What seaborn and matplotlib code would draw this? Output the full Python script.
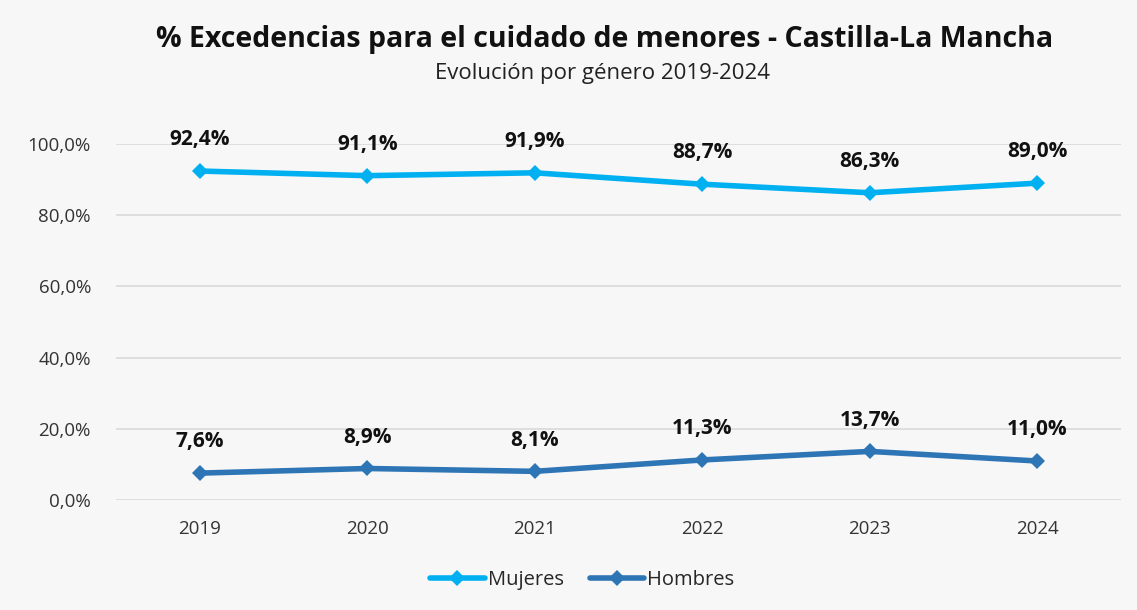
import pandas as pd
import matplotlib.pyplot as plt
import seaborn as sns

years = ["2019", "2020", "2021", "2022", "2023", "2024"]
mujeres = [92.4, 91.1, 91.9, 88.7, 86.3, 89.0]
hombres = [7.6, 8.9, 8.1, 11.3, 13.7, 11.0]
yticks = [0, 20, 40, 60, 80, 100]

colors = {"Mujeres": "#00b0f0", "Hombres": "#2e75b6"}


def fmt(v):
    return f"{v:.1f}%".replace(".", ",")


def main():
    df = pd.DataFrame({"Año": years * 2,
                       "Valor": mujeres + hombres,
                       "Serie": ["Mujeres"] * len(years) + ["Hombres"] * len(years)})

    sns.set_theme(style="white")
    plt.rcParams["font.family"] = ["Open Sans", "DejaVu Sans"]

    fig = plt.figure(figsize=(11.37, 6.10), dpi=100, facecolor="#f7f7f7")
    ax = fig.add_axes([0.102, 0.180, 0.884, 0.584])
    ax.set_facecolor("#f7f7f7")

    sns.lineplot(data=df, x="Año", y="Valor", hue="Serie", palette=colors,
                 marker="D", markersize=8, markeredgewidth=0, linewidth=4,
                 sort=False, ax=ax)

    # data labels
    for vals in (mujeres, hombres):
        for i, v in enumerate(vals):
            ax.annotate(fmt(v), (i, v), xytext=(0, 15), textcoords="offset points",
                        ha="center", va="bottom", fontsize=15, fontweight="bold",
                        color="#111111")

    ax.set_xlim(-0.5, len(years) - 0.5)
    ax.set_ylim(0, 100)
    ax.set_yticks(yticks)
    ax.set_yticklabels([fmt(t) for t in yticks], fontsize=13.5, color="#333333")
    ax.tick_params(axis="x", labelsize=13.5, colors="#333333", pad=14, length=0)
    ax.tick_params(axis="y", pad=18, length=0)
    ax.grid(axis="y", color="#d9d9d9", linewidth=1.2)
    ax.set_axisbelow(True)
    for s in ax.spines.values():
        s.set_visible(False)
    ax.set_xlabel("")
    ax.set_ylabel("")

    leg = ax.legend(loc="upper center", bbox_to_anchor=(0.464, -0.145), ncol=2,
                    frameon=False, fontsize=14.5, handlelength=2.7,
                    handletextpad=0.15, columnspacing=1.3)
    for h in leg.legend_handles:
        h.set_linewidth(4)
        h.set_markersize(8)

    fig.text(0.532, 0.936, "% Excedencias para el cuidado de menores - Castilla-La Mancha",
             ha="center", va="center", fontsize=20.5, fontweight="bold", color="#111111")
    fig.text(0.530, 0.880, "Evolución por género 2019-2024", ha="center", va="center",
             fontsize=16, color="#222222")

    fig.savefig("out.png", dpi=100, facecolor=fig.get_facecolor())
    plt.close(fig)


if __name__ == "__main__":
    main()
